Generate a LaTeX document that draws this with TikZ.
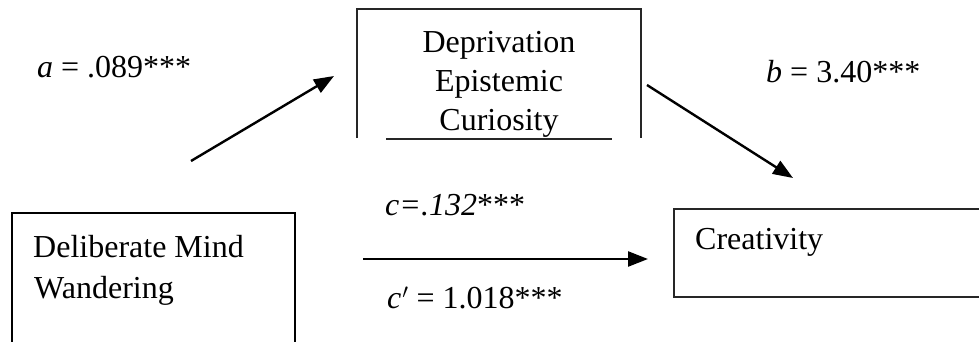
\documentclass[tikz,border=0pt]{standalone}
\usepackage{fontspec}
\setmainfont{Liberation Serif}
\usetikzlibrary{arrows.meta}
\begin{document}
\begin{tikzpicture}[x=1pt,y=-1pt,
  txt/.style={inner sep=0pt,font=\fontsize{32}{40}\selectfont},
  boxline/.style={draw=black!85,line width=1.8pt},
  thickbox/.style={draw=black,line width=2.6pt},
  arr/.style={draw=black,line width=2.4pt,-{Triangle[length=20pt,width=15pt]}}]
\useasboundingbox (0,0) rectangle (979,342);
% Deprivation Epistemic Curiosity box (partial)
\draw[boxline] (357,138) -- (357,9) -- (641,9) -- (641,138);
\draw[boxline] (386,139) -- (612,139);
\node[txt,anchor=base] (dep1) at (499,53) {Deprivation};
\node[txt,anchor=base] (dep2) at (499,92) {Epistemic};
\node[txt,anchor=base] (dep3) at (499,130) {Curiosity};
% Mind wandering box
\draw[thickbox] (12,343) -- (12,213) -- (295,213) -- (295,343);
\node[txt,anchor=base west] (mw1) at (33,257) {Deliberate Mind};
\node[txt,anchor=base west] (mw2) at (34,298) {Wandering};
% Creativity box
\draw[boxline,line width=1.5pt] (980,209) -- (674,209) -- (674,297) -- (980,297);
\node[txt,anchor=base west] (cr) at (695,249) {Creativity};
% labels
\node[txt,anchor=base west] (la) at (37,78) {\textit{a} = .089***};
\node[txt,anchor=base west] (lb) at (766,83) {\textit{b} = 3.40***};
\node[txt,anchor=base west] (lc) at (385,215) {\textit{c=.132}***};
\node[txt,anchor=base west] (lcp) at (387,308) {\textit{c}\kern1pt$'$ = 1.018***};
% arrow endpoints
\coordinate (a0) at (191,161);
\coordinate (a1) at (334,76);
\coordinate (b0) at (647,85);
\coordinate (b1) at (793,178);
\coordinate (c0) at (363,259);
\coordinate (c1) at (648,259);
\draw[arr] (a0) -- (a1);
\draw[arr] (b0) -- (b1);
\draw[arr] (c0) -- (c1);
\end{tikzpicture}
\end{document}
